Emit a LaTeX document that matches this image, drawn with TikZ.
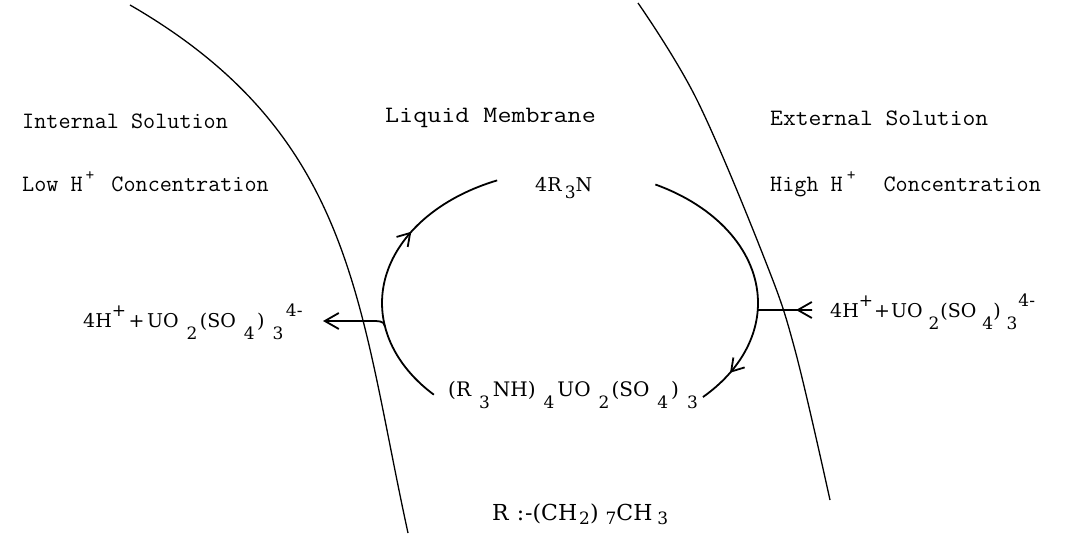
\documentclass[tikz,border=0pt]{standalone}
\usepackage{fontspec}
\newfontfamily\chemfam{DejaVu Serif}
\usetikzlibrary{arrows.meta,decorations.markings}
\newcommand\chsub[2][0.6em]{\raisebox{-#1}{\fontsize{17}{20}\selectfont #2}}
\newcommand\chsup[2][0.6em]{\raisebox{#1}{\fontsize{17}{20}\selectfont #2}}
\newcommand\labfont{\fontsize{23.5}{27}\selectfont\ttfamily}
\newcommand\chemfont{\fontsize{19}{23}\selectfont\chemfam}
\begin{document}
\begin{tikzpicture}[x=1pt,y=1pt,
  lab/.style={font=\labfont,anchor=base west,inner sep=0pt},
  chem/.style={font=\chemfont,anchor=base west,inner sep=0pt},
  membrane/.style={line width=1.3pt},
  cyc/.style={line width=1.8pt},
  barb/.style={-{Straight Barb[length=14pt,width=16pt]}},
  midbarb/.style={postaction={decorate},decoration={markings,mark=at position #1 with {\arrow{Straight Barb[length=12pt,width=15pt]}}}}
]
\useasboundingbox (0,0) rectangle (1065,533);
\fill[white] (0,0) rectangle (1065,533);
% membranes
\draw[membrane] (130,528) .. controls (355,398) and (358,229) .. (408,0);
\draw[membrane] plot[smooth,tension=0.6] coordinates {(638,530) (697,433) (765,273) (795,183) (830,33)};
% cycle
\coordinate (c) at (570,230);
\draw[cyc,midbarb=0.65] (c) ++(223.6:188 and 133) arc[start angle=223.6,end angle=112.8,x radius=188,y radius=133];
\draw[cyc,midbarb=0.87] (c) ++(63:188 and 133) arc[start angle=63,end angle=-45,x radius=188,y radius=133];
% left release arrow
\path (c) ++(190:188 and 133) coordinate (jl);
\coordinate (bendL) at (372,212);
\coordinate (tipL) at (323,212);
\draw[cyc,barb] (jl) to[out=95,in=0] (bendL) -- (tipL);
% right uptake arrow
\path (c) ++(-3:188 and 133) coordinate (jr);
\coordinate (tailR) at (812,223);
\coordinate (tipR) at (796,223);
\draw[cyc] (tailR) -- (jr);
\draw[cyc,barb] (tailR) -- (tipR);
% labels
\node[lab] (int) at (22,404) {Internal Solution};
\node[lab] (low) at (22,341) {Low H\hspace{3pt}\chsup[0.5em]{+}\hspace{17pt}Concentration};
\node[lab] (liq) at (385,410) {\scalebox{1.16}[1]{Liquid Membrane}};
\node[lab] (ext) at (770,407) {\scalebox{1.06}[1]{External Solution}};
\node[lab] (high) at (770,341) {High H\hspace{4pt}\chsup[0.5em]{+}\hspace{28pt}Concentration};
\node[chem] (amine) at (535,341) {4R\,\chsub[0.35em]{3}N};
\node[chem] (inL) at (83,205) {4H\chsup{+}\hspace{2.5pt}+\hspace{2.5pt}UO\hspace{8pt}\chsub{2}\hspace{2.5pt}(SO\hspace{8pt}\chsub{4}\hspace{2.5pt})\hspace{8pt}\chsub{3}\hspace{2.5pt}\chsup{4-}};
\node[chem] (inR) at (830,215) {4H\chsup{+}\hspace{1pt}+\hspace{1pt}UO\hspace{6pt}\chsub{2}\hspace{1pt}(SO\hspace{6pt}\chsub{4})\hspace{6pt}\chsub{3}\hspace{1pt}\chsup{4-}};
\node[chem,font=\fontsize{20}{24}\selectfont\chemfam] (cplx) at (448,136) {(R\hspace{8pt}\chsub{3}\hspace{3pt}NH)\hspace{8pt}\chsub{4}\hspace{3pt}UO\hspace{8pt}\chsub{2}\hspace{2pt}(SO\hspace{8pt}\chsub{4}\hspace{3pt})\hspace{8pt}\chsub{3}};
\node[chem,font=\fontsize{22}{26}\selectfont\chemfam] (rdef) at (492,13) {R\hspace{8pt}:\hspace{1pt}-(CH\hspace{2pt}\chsub[0.2em]{2})\hspace{7pt}\chsub[0.2em]{7}CH\hspace{5pt}\chsub[0.2em]{3}};
\end{tikzpicture}
\end{document}
